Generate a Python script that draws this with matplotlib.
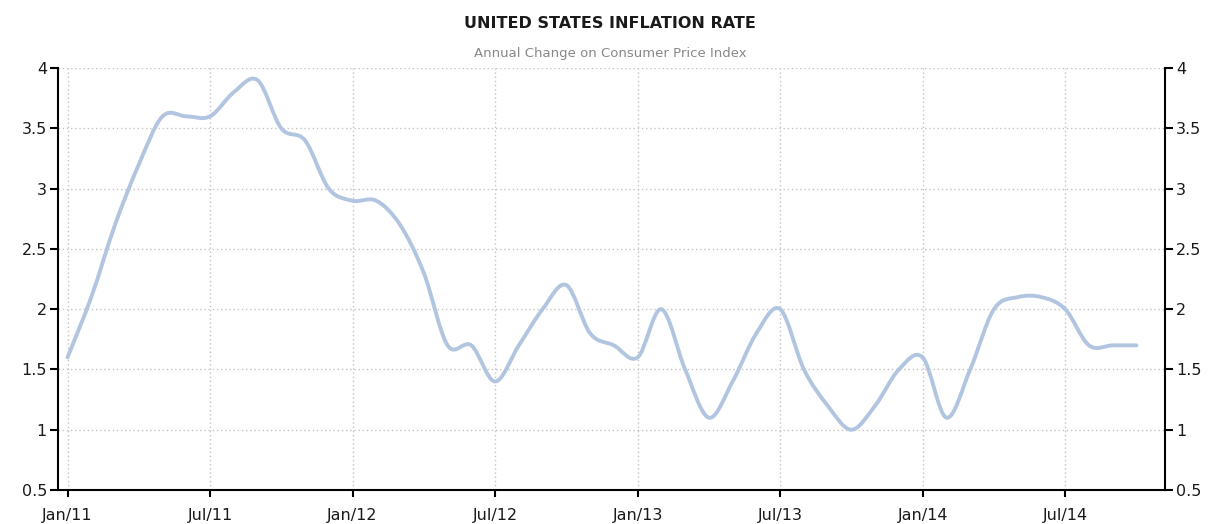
import matplotlib.pyplot as plt
from matplotlib.path import Path
from matplotlib.patches import PathPatch
from matplotlib.ticker import FormatStrFormatter

# monthly CPI yoy, Jan 2011 .. Oct 2014
inflation = [1.6, 2.1, 2.7, 3.2, 3.6, 3.6, 3.6, 3.8, 3.9, 3.5, 3.4, 3.0,
             2.9, 2.9, 2.7, 2.3, 1.7, 1.7, 1.4, 1.7, 2.0, 2.2, 1.8, 1.7,
             1.6, 2.0, 1.5, 1.1, 1.4, 1.8, 2.0, 1.5, 1.2, 1.0, 1.2, 1.5,
             1.6, 1.1, 1.5, 2.0, 2.1, 2.1, 2.0, 1.7, 1.7, 1.7]
months = list(range(len(inflation)))  # 0 = Jan 2011

tick_months = [0, 6, 12, 18, 24, 30, 36, 42]
tick_labels = ["Jan/11", "Jul/11", "Jan/12", "Jul/12",
               "Jan/13", "Jul/13", "Jan/14", "Jul/14"]
y_ticks = [0.5, 1, 1.5, 2, 2.5, 3, 3.5, 4]

title = "UNITED STATES INFLATION RATE"
subtitle = "Annual Change on Consumer Price Index"


def smooth_path(x, y, tension=6.0):
    # catmull-rom through the points, drawn as cubic beziers
    verts = [(x[0], y[0])]
    codes = [Path.MOVETO]
    n = len(x)
    for i in range(n - 1):
        p0 = (x[max(i - 1, 0)], y[max(i - 1, 0)])
        p1 = (x[i], y[i])
        p2 = (x[i + 1], y[i + 1])
        p3 = (x[min(i + 2, n - 1)], y[min(i + 2, n - 1)])
        c1 = (p1[0] + (p2[0] - p0[0]) / tension, p1[1] + (p2[1] - p0[1]) / tension)
        c2 = (p2[0] - (p3[0] - p1[0]) / tension, p2[1] - (p3[1] - p1[1]) / tension)
        verts += [c1, c2, p2]
        codes += [Path.CURVE4] * 3
    return Path(verts, codes)


fig = plt.figure(figsize=(12.11, 5.24), dpi=100)
ax = fig.add_axes([0.0479, 0.0649, 0.9141, 0.8051])

patch = PathPatch(smooth_path(months, inflation), facecolor="none",
                  edgecolor="#b1c5e1", lw=2.8, capstyle="round", joinstyle="round")
ax.add_patch(patch)

ax.set_xlim(-0.4, 46.2)
ax.set_ylim(0.5, 4)
ax.set_xticks(tick_months)
ax.set_xticklabels(tick_labels)
ax.set_yticks(y_ticks)
ax.yaxis.set_major_formatter(FormatStrFormatter("%g"))

ax.grid(True, color="#c4c4c4", linestyle=(0, (1, 2)), linewidth=1)
ax.set_axisbelow(True)
ax.spines["top"].set_visible(False)
for s in ["left", "right", "bottom"]:
    ax.spines[s].set_linewidth(1.5)
    ax.spines[s].set_color("black")

ax.tick_params(axis="y", which="both", left=True, right=True,
               labelleft=True, labelright=True, length=6, width=1.5,
               labelsize=11.5, labelcolor="#1a1a1a", pad=2)
ax.tick_params(axis="x", length=5, width=1.5, labelsize=11.5,
               labelcolor="#1a1a1a", pad=8)

fig.text(0.504, 0.955, title, ha="center", va="center",
         fontsize=11.5, fontweight="bold", color="#1a1a1a")
fig.text(0.504, 0.898, subtitle, ha="center", va="center",
         fontsize=9.5, color="#888888")

fig.savefig("out.png", dpi=100)
